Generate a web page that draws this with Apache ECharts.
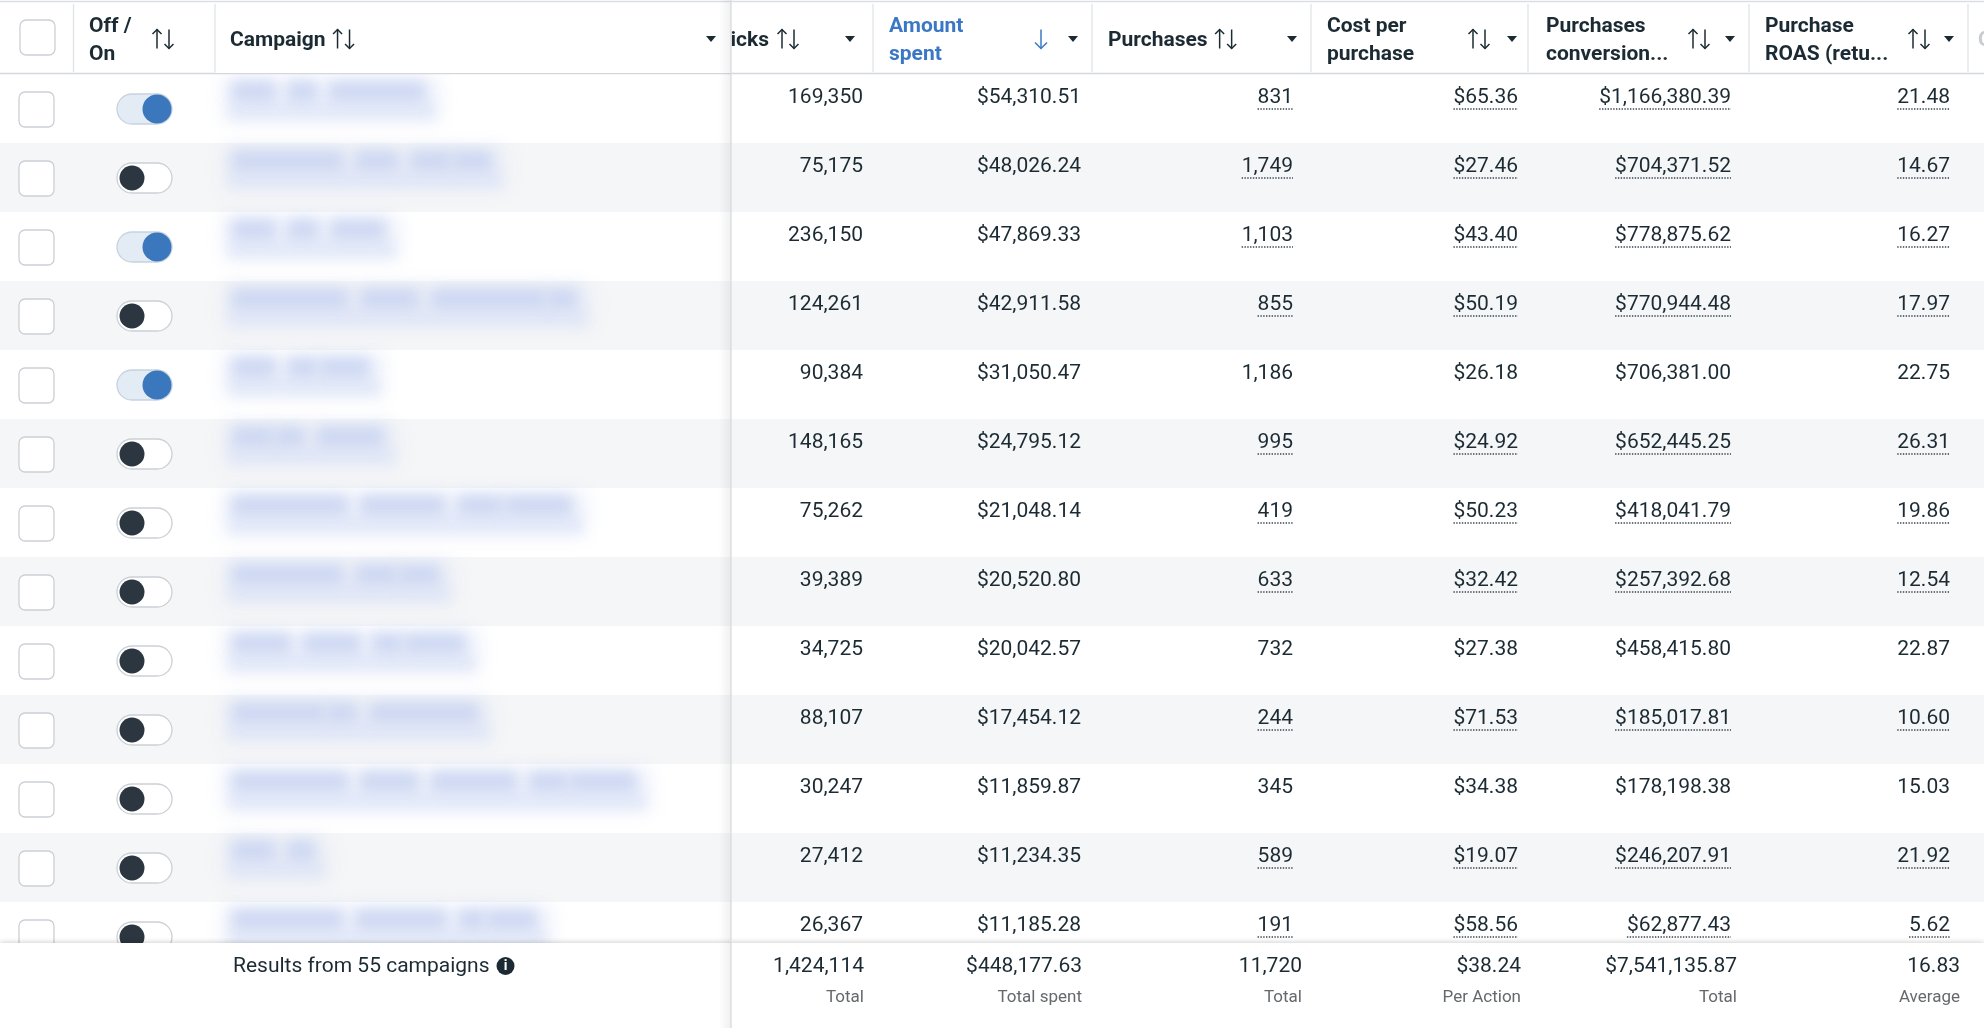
<!DOCTYPE html>
<html>
<head>
    <meta charset="UTF-8">
    <script type="text/javascript" src="https://cdn.jsdelivr.net/npm/echarts@6/dist/echarts.min.js"></script>
</head>
<body style="margin: 0;padding: 0;overflow: hidden;background: #fff;">
<div id="main" style="width: 1984px;height: 1028px;"></div>
<script>
    // campaign names are blurred in the source, these are stand-ins of similar length
    var campaigns = [
        'ASC | US | Evergreen',
        'Retargeting | DPA | 30D Site',
        'ASC | CA | Sales',
        'Prospecting | Broad | Advantage+ US',
        'ASC | UK Main',
        'LAL 1% | Buyers',
        'Prospecting | Interests | UGC Videos',
        'Retargeting | ATC 14D',
        'Broad | Static | Q4 Offers',
        'Lookalike 3% | Purchasers',
        'Prospecting | Broad | Carousel | Top Sellers',
        'DPA | All',
        'Retargeting | Engagers | 60 Days'
    ]
    var isOn = [true, false, true, false, true, false, false, false, false, false, false, false, false]
    var clicks = [169350, 75175, 236150, 124261, 90384, 148165, 75262, 39389, 34725, 88107, 30247, 27412, 26367]
    var amountSpent = [54310.51, 48026.24, 47869.33, 42911.58, 31050.47, 24795.12, 21048.14, 20520.80, 20042.57, 17454.12, 11859.87, 11234.35, 11185.28]
    var purchases = [831, 1749, 1103, 855, 1186, 995, 419, 633, 732, 244, 345, 589, 191]
    var costPerPurchase = [65.36, 27.46, 43.40, 50.19, 26.18, 24.92, 50.23, 32.42, 27.38, 71.53, 34.38, 19.07, 58.56]
    var conversionValue = [1166380.39, 704371.52, 778875.62, 770944.48, 706381.00, 652445.25, 418041.79, 257392.68, 458415.80, 185017.81, 178198.38, 246207.91, 62877.43]
    var roas = [21.48, 14.67, 16.27, 17.97, 22.75, 26.31, 19.86, 12.54, 22.87, 10.60, 15.03, 21.92, 5.62]
    // rows whose attribution values show the dotted underline
    var attributed = [true, true, true, true, false, true, true, true, false, true, false, true, true]

    var totals = [1424114, 448177.63, 11720, 38.24, 7541135.87, 16.83]
    var totalLabels = ['Total', 'Total spent', 'Total', 'Per Action', 'Total', 'Average']
    var headerTitles = [['Off /', 'On'], ['Campaign'], ['Clicks'], ['Amount', 'spent'], ['Purchases'],
        ['Cost per', 'purchase'], ['Purchases', 'conversion...'], ['Purchase', 'ROAS (retu...']]
    var resultsText = 'Results from 55 campaigns'

    var FONT = 'Roboto, "Noto Sans", sans-serif'
    var INK = '#1c2b33'
    var W = 1984, H = 1028
    var HEAD_H = 74, FOOT_Y = 943, FROZEN_X = 731
    var OFF = 3000 // blocks are drawn off-canvas, only their blurred shadow lands in the cell

    var measureCtx = document.createElement('canvas').getContext('2d')
    function textWidth(str, font) {
        measureCtx.font = font
        return measureCtx.measureText(str).width
    }
    function fmtInt(v) { return v.toLocaleString('en-US') }
    function fmtMoney(v) { return '$' + v.toLocaleString('en-US', {minimumFractionDigits: 2, maximumFractionDigits: 2}) }
    function fmtDec(v) { return v.toFixed(2) }

    var valueCols = [
        {data: clicks, fmt: fmtInt, right: 863, foot: 864, dotted: false},
        {data: amountSpent, fmt: fmtMoney, right: 1081, foot: 1082, dotted: false},
        {data: purchases, fmt: fmtInt, right: 1293, foot: 1302, dotted: true},
        {data: costPerPurchase, fmt: fmtMoney, right: 1518, foot: 1521, dotted: true},
        {data: conversionValue, fmt: fmtMoney, right: 1731, foot: 1737, dotted: true},
        {data: roas, fmt: fmtDec, right: 1950, foot: 1960, dotted: true}
    ]
    var CELL_FONT = '21px ' + FONT

    var chart = echarts.init(document.getElementById('main'))

    function blurRect(x, y, w, h, color, blur) {
        return {type: 'rect', shape: {x: x - OFF, y: y, width: w, height: h},
            style: {fill: '#000', shadowBlur: blur, shadowColor: color, shadowOffsetX: OFF}}
    }

    function renderRow(params, api) {
        var i = api.value(1)
        var band = api.size([0, 1])[1]
        var top = api.coord([0, i])[1] - band / 2
        var X = function (px) { return api.coord([px, i])[0] }
        var kids = []
        if (i % 2 === 1) {
            kids.push({type: 'rect', shape: {x: X(0), y: top, width: W, height: band}, style: {fill: '#f5f6f7'}})
        }
        // checkbox
        kids.push({type: 'rect', shape: {x: X(19), y: top + 18, width: 35, height: 35, r: 6},
            style: {fill: '#fff', stroke: '#ccd0d5', lineWidth: 1.3}})
        // toggle
        var on = isOn[i]
        kids.push({type: 'rect', shape: {x: X(117), y: top + 20, width: 55, height: 30, r: 15},
            style: {fill: on ? '#e3ebf4' : '#fff', stroke: on ? '#c8d2de' : '#ccd0d5', lineWidth: 1.3}})
        kids.push({type: 'circle', shape: {cx: X(on ? 157 : 132), cy: top + 35, r: on ? 14.5 : 12.5},
            style: {fill: on ? '#3a77bc' : '#2c3640'}})
        // blurred campaign name
        var words = campaigns[i].split(' ')
        var cx = 234, space = textWidth(' ', CELL_FONT)
        var blocks = []
        for (var k = 0; k < words.length; k++) {
            var ww = textWidth(words[k], CELL_FONT)
            if (words[k] !== '|') {
                blocks.push(blurRect(X(cx) - 2, top + 7, ww + 4, 21, 'rgba(198,210,240,0.8)', 14))
            }
            cx += ww + space
        }
        kids.push(blurRect(X(222), top + 4, cx - 210, 44, 'rgba(228,234,249,0.6)', 18))
        kids.push(blurRect(X(230), top + 29, cx - 224, 16, 'rgba(218,226,247,0.6)', 12))
        kids = kids.concat(blocks)
        // numbers
        valueCols.forEach(function (col) {
            var str = col.fmt(col.data[i])
            kids.push({type: 'text', x: X(col.right), y: top + 23.5,
                style: {text: str, fill: INK, font: CELL_FONT, align: 'right', verticalAlign: 'middle'}})
            if (col.dotted && attributed[i]) {
                var tw = textWidth(str, CELL_FONT)
                kids.push({type: 'line', shape: {x1: X(col.right) - tw, y1: top + 35, x2: X(col.right), y2: top + 35},
                    style: {stroke: '#3a4650', lineWidth: 1.4, lineDash: [1.4, 1.4]}})
            }
        })
        return {type: 'group', children: kids}
    }

    // header, frozen column edge and footer
    var g = []
    g.push({type: 'rect', z: 100, shape: {x: 0, y: 0, width: W, height: HEAD_H}, style: {fill: '#fff'}})
    g.push({type: 'line', z: 101, shape: {x1: 0, y1: 1.5, x2: W, y2: 1.5}, style: {stroke: '#dadde1', lineWidth: 1.5}})
    g.push({type: 'line', z: 101, shape: {x1: 0, y1: HEAD_H - 0.5, x2: W, y2: HEAD_H - 0.5}, style: {stroke: '#d4d7db', lineWidth: 1.5}})
    ;[73.5, 215, 873, 1092, 1311, 1528, 1749, 1968].forEach(function (x) {
        g.push({type: 'line', z: 101, shape: {x1: x, y1: 4, x2: x, y2: HEAD_H - 2}, style: {stroke: '#e2e4e7', lineWidth: 1.3}})
    })
    g.push({type: 'rect', z: 100, shape: {x: 20, y: 20, width: 35, height: 35, r: 6},
        style: {fill: '#fff', stroke: '#ccd0d5', lineWidth: 1.3}})

    var HEAD_FONT = 'bold 21px ' + FONT
    var HY = 40.5
    var headLayout = [
        {x: 89, sort: 152, tri: null},
        {x: 230, sort: 'inline', tri: 711},
        {x: 769, right: true, sort: 777, tri: 850},
        {x: 889, sort: 1036, tri: 1073, active: true},
        {x: 1108, sort: 'inline', tri: 1292},
        {x: 1327, sort: 1468, tri: 1512},
        {x: 1546, sort: 1688, tri: 1730},
        {x: 1765, sort: 1908, tri: 1949}
    ]
    function arrow(cx, yc, up, color, half) {
        var tip = up ? yc - 9.5 : yc + 9.5
        var back = up ? tip + half : tip - half
        return [
            {type: 'line', z: 102, shape: {x1: cx, y1: yc - 9.5, x2: cx, y2: yc + 9.5}, style: {stroke: color, lineWidth: 1.5}},
            {type: 'polyline', z: 102, shape: {points: [[cx - half, back], [cx, tip], [cx + half, back]]},
                style: {stroke: color, lineWidth: 1.5, fill: null}}
        ]
    }
    headerTitles.forEach(function (lines, c) {
        var lay = headLayout[c]
        var color = lay.active ? '#3a78c6' : INK
        var ys = lines.length === 2 ? [26.5, 54.5] : [HY]
        lines.forEach(function (t, j) {
            g.push({type: 'text', z: 101, x: lay.x, y: ys[j],
                style: {text: t, fill: color, font: HEAD_FONT, align: lay.right ? 'right' : 'left', verticalAlign: 'middle'}})
        })
        var sx = lay.sort === 'inline' ? lay.x + textWidth(lines[0], HEAD_FONT) + 7 : lay.sort
        if (lay.active) {
            g = g.concat(arrow(sx + 5, 39, false, color, 6))
        } else {
            g = g.concat(arrow(sx + 5, 39, true, INK, 4.5), arrow(sx + 17, 39, false, INK, 4.5))
        }
        if (lay.tri) {
            g.push({type: 'polygon', z: 102, shape: {points: [[lay.tri - 5, 36], [lay.tri + 5, 36], [lay.tri, 42]]}, style: {fill: INK}})
        }
    })
    // left frozen part of the header covers the scrolled column title
    g.push({type: 'rect', z: 103, shape: {x: 216, y: 3, width: FROZEN_X - 216, height: HEAD_H - 4}, style: {fill: '#fff'}})
    g.push({type: 'text', z: 104, x: 230, y: HY,
        style: {text: headerTitles[1][0], fill: INK, font: HEAD_FONT, verticalAlign: 'middle'}})
    var cw = textWidth(headerTitles[1][0], HEAD_FONT) + 7
    arrow(230 + cw + 5, 39, true, INK, 4.5).concat(arrow(230 + cw + 17, 39, false, INK, 4.5)).forEach(function (el) {
        el.z = 104
        g.push(el)
    })
    g.push({type: 'polygon', z: 104, shape: {points: [[706, 36], [716, 36], [711, 42]]}, style: {fill: INK}})
    g.push({type: 'text', z: 101, x: 1978, y: HY, style: {text: 'C', fill: '#c9ccd1', font: HEAD_FONT, verticalAlign: 'middle'}})

    // footer
    g.push({type: 'rect', z: 110, shape: {x: 0, y: FOOT_Y, width: W, height: H - FOOT_Y},
        style: {fill: '#fff', shadowBlur: 5, shadowOffsetY: -1, shadowColor: 'rgba(0,0,0,0.18)'}})
    g.push({type: 'text', z: 111, x: 233, y: 967, style: {text: resultsText, fill: INK, font: CELL_FONT, verticalAlign: 'middle'}})
    var ix = 233 + textWidth(resultsText, CELL_FONT) + 16
    g.push({type: 'circle', z: 111, shape: {cx: ix, cy: 966, r: 9}, style: {fill: INK}})
    g.push({type: 'text', z: 112, x: ix, y: 966.5, style: {text: 'i', fill: '#fff', font: 'bold 14px ' + FONT, align: 'center', verticalAlign: 'middle'}})
    valueCols.forEach(function (col, c) {
        g.push({type: 'text', z: 111, x: col.foot, y: 967,
            style: {text: col.fmt(totals[c]), fill: INK, font: CELL_FONT, align: 'right', verticalAlign: 'middle'}})
        g.push({type: 'text', z: 111, x: col.foot, y: 997.5,
            style: {text: totalLabels[c], fill: '#65686d', font: '17px ' + FONT, align: 'right', verticalAlign: 'middle'}})
    })

    // frozen column edge
    g.push({type: 'rect', z: 120, shape: {x: FROZEN_X - 12, y: 0, width: 12, height: H},
        style: {fill: new echarts.graphic.LinearGradient(0, 0, 1, 0, [
            {offset: 0, color: 'rgba(0,0,0,0)'}, {offset: 1, color: 'rgba(0,0,0,0.06)'}])}})
    g.push({type: 'line', z: 121, shape: {x1: FROZEN_X, y1: 0, x2: FROZEN_X, y2: H}, style: {stroke: '#dcdee1', lineWidth: 1.5}})

    var option = {
        animation: false,
        grid: {left: 0, right: 0, top: HEAD_H, height: campaigns.length * 69},
        xAxis: {type: 'value', min: 0, max: W, show: false},
        yAxis: {type: 'category', data: campaigns, inverse: true, show: false},
        graphic: g,
        series: [{
            type: 'custom',
            renderItem: renderRow,
            encode: {x: 0, y: 1},
            data: campaigns.map(function (name, i) { return [0, i] }),
            clip: false
        }]
    }
    chart.setOption(option)
</script>
</body>
</html>
